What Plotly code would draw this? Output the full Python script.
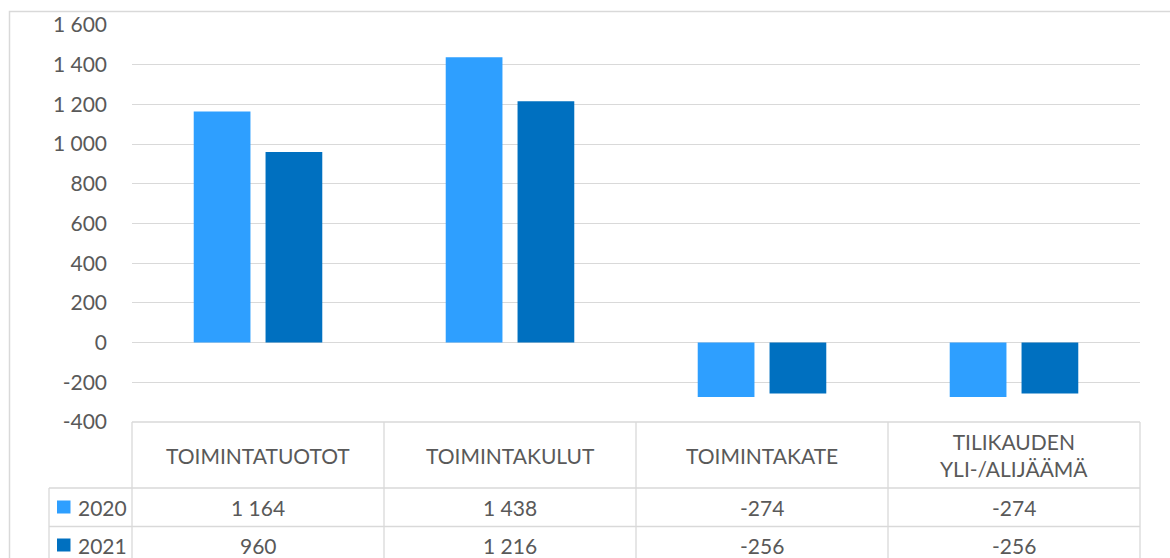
import plotly.graph_objects as go

categories = ["TOIMINTATUOTOT", "TOIMINTAKULUT", "TOIMINTAKATE", "TILIKAUDEN YLI-/ALIJÄÄMÄ"]
category_labels = ["TOIMINTATUOTOT", "TOIMINTAKULUT", "TOIMINTAKATE", "TILIKAUDEN<br>YLI-/ALIJÄÄMÄ"]
series_names = ["2020", "2021"]
values_2020 = [1164, 1438, -274, -274]
values_2021 = [960, 1216, -256, -256]
tick_vals = [-400, -200, 0, 200, 400, 600, 800, 1000, 1200, 1400, 1600]
tick_text = ["-400", "-200", "0", "200", "400", "600", "800", "1 000", "1 200", "1 400", "1 600"]

colors = ["#2E9FFF", "#0070C0"]
text_color = "#595959"
grid_color = "#D9D9D9"
FONT = "Lato"

W, H = 1170, 558
L, R, T, B = 132, 1140, 25, 422  # plot area pixel bounds


def px(x):
    return (x - L) / (R - L)


def py(y):
    return (B - y) / (B - T)


def fmt(v):
    s = f"{abs(v):,}".replace(",", " ")
    return ("-" if v < 0 else "") + s


fig = go.Figure()
for name, vals, col in zip(series_names, [values_2020, values_2021], colors):
    fig.add_trace(go.Bar(x=categories, y=vals, name=name, marker=dict(color=col, line=dict(width=0))))

shapes = []
line = dict(color=grid_color, width=1.3)
# outer chart border
shapes.append(dict(type="rect", xref="paper", yref="paper", x0=px(9.5), x1=px(1190), y0=py(11.5), y1=py(600),
                   line=dict(color=grid_color, width=1.5)))
# table horizontal lines
shapes.append(dict(type="line", xref="paper", yref="paper", x0=px(L), x1=px(R), y0=py(422), y1=py(422), line=line))
for yy in [488, 526.5]:
    shapes.append(dict(type="line", xref="paper", yref="paper", x0=px(49), x1=px(R), y0=py(yy), y1=py(yy), line=line))
# table vertical lines
n = len(categories)
for i in range(n + 1):
    xx = L + (R - L) * i / n
    shapes.append(dict(type="line", xref="paper", yref="paper", x0=px(xx), x1=px(xx), y0=py(422), y1=py(600), line=line))
shapes.append(dict(type="line", xref="paper", yref="paper", x0=px(49), x1=px(49), y0=py(488), y1=py(600), line=line))
# legend keys
for col, yc in zip(colors, [507, 545]):
    shapes.append(dict(type="rect", xref="paper", yref="paper", x0=px(57), x1=px(70.5), y0=py(yc - 6.5), y1=py(yc + 6.5),
                       fillcolor=col, line=dict(width=0)))

annotations = []
for cat, lab in zip(categories, category_labels):
    annotations.append(dict(x=cat, y=py(455), xref="x", yref="paper", text=lab, showarrow=False,
                            font=dict(family=FONT, size=21, color=text_color), xanchor="center", yanchor="middle"))
for name, vals, yc in zip(series_names, [values_2020, values_2021], [507, 545]):
    annotations.append(dict(x=px(76), y=py(yc), xref="paper", yref="paper", text=name, showarrow=False,
                            font=dict(family=FONT, size=21, color=text_color), xanchor="left", yanchor="middle"))
    for cat, v in zip(categories, vals):
        annotations.append(dict(x=cat, y=py(yc), xref="x", yref="paper", text=fmt(v), showarrow=False,
                                font=dict(family=FONT, size=21, color=text_color), xanchor="center", yanchor="middle"))

fig.update_layout(
    width=W, height=H,
    margin=dict(l=L, r=W - R, t=T, b=H - B, pad=0),
    paper_bgcolor="white", plot_bgcolor="white",
    barmode="group", bargap=0.43, bargroupgap=0.21,
    showlegend=False,
    font=dict(family=FONT, size=21, color=text_color),
    xaxis=dict(showticklabels=False, showgrid=False, zeroline=False, showline=False, ticks=""),
    yaxis=dict(range=[-400, 1600], tickvals=tick_vals, ticktext=tick_text, showgrid=True, gridcolor=grid_color,
               gridwidth=1.3, zeroline=True, zerolinecolor=grid_color, zerolinewidth=1.3, showline=False, ticks="",
               ticklabelstandoff=24, tickfont=dict(family=FONT, size=21, color=text_color)),
    shapes=shapes, annotations=annotations,
)

fig.write_html("out.html", config={"displayModeBar": False},
               post_script="document.body.style.margin='0';document.body.style.overflow='hidden';")
